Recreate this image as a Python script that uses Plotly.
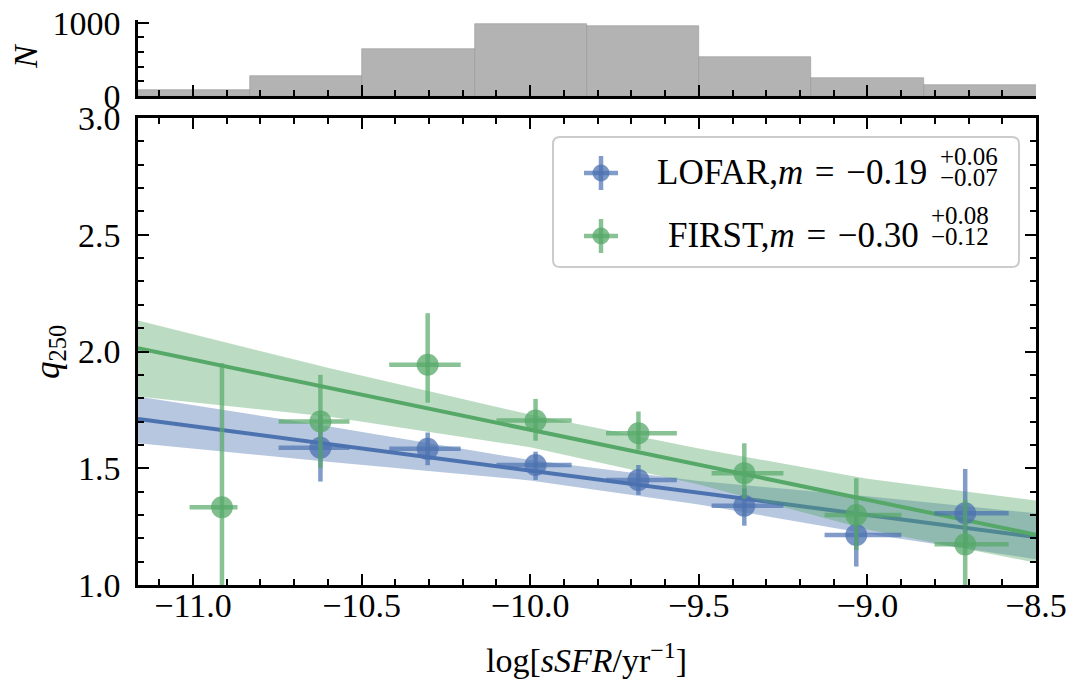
import plotly.graph_objects as go

# ---------------- data ----------------
hist_edges = [-11.163, -10.831, -10.498, -10.165, -9.832, -9.499, -9.166, -8.833, -8.500]
hist_counts = [82, 273, 641, 982, 955, 532, 245, 150]

x_lofar = [-10.622, -10.304, -9.984, -9.679, -9.365, -9.033, -8.710]
q_lofar = [1.588, 1.583, 1.514, 1.450, 1.339, 1.214, 1.307]
q_lofar_up = [0.14, 0.07, 0.057, 0.064, 0.075, 0.13, 0.19]
q_lofar_lo = [0.145, 0.07, 0.064, 0.064, 0.085, 0.135, 0.15]
xerr_lofar_lo = [0.124, 0.114, 0.116, 0.096, 0.097, 0.094, 0.091]
xerr_lofar_hi = [0.086, 0.098, 0.107, 0.114, 0.116, 0.134, 0.129]

x_first = [-10.914, -10.622, -10.304, -9.984, -9.679, -9.365, -9.033, -8.710]
q_first = [1.333, 1.700, 1.943, 1.704, 1.650, 1.479, 1.300, 1.174]
q_first_up = [0.617, 0.20, 0.221, 0.093, 0.093, 0.128, 0.157, 0.19]
q_first_lo = [0.60, 0.20, 0.162, 0.086, 0.071, 0.11, 0.15, 0.20]
xerr_first_lo = [0.096, 0.124, 0.114, 0.116, 0.096, 0.097, 0.094, 0.091]
xerr_first_hi = [0.046, 0.086, 0.098, 0.107, 0.114, 0.116, 0.134, 0.129]

fit_x = [-11.163, -10.6, -10.0, -9.5, -9.0, -8.5]
lofar_fit = [1.711, 1.604, 1.490, 1.395, 1.300, 1.205]
lofar_band_hi = [1.807, 1.680, 1.535, 1.445, 1.380, 1.307]
lofar_band_lo = [1.607, 1.528, 1.448, 1.345, 1.220, 1.110]
first_fit = [2.014, 1.845, 1.665, 1.515, 1.365, 1.215]
first_band_hi = [2.133, 1.930, 1.730, 1.585, 1.455, 1.362]
first_band_lo = [1.807, 1.722, 1.590, 1.430, 1.238, 1.095]

legend_labels = ["LOFAR,<i>m</i>\u2004=\u2004−0.19", "FIRST,<i>m</i>\u2004=\u2004−0.30"]
legend_sup = ["+0.06", "+0.08"]
legend_sub = ["−0.07", "−0.12"]

# ---------------- layout geometry ----------------
W, H = 1076, 681
L, R, T, B = 138, 40, 20, 96
PW, PH = W - L - R, H - T - B
FONT = "Liberation Serif"


def px(x):
    return (x - L) / PW


def py(y):
    return (H - B - y) / PH


BLUE = (76, 114, 176)
GREEN = (85, 168, 104)


def rgba(c, a):
    return "rgba(%d,%d,%d,%s)" % (c[0], c[1], c[2], a)


fig = go.Figure()

# histogram (top panel)
centers = [(hist_edges[i] + hist_edges[i + 1]) / 2 for i in range(len(hist_counts))]
widths = [hist_edges[i + 1] - hist_edges[i] for i in range(len(hist_counts))]
fig.add_trace(go.Bar(x=centers, y=hist_counts, width=widths, xaxis="x2", yaxis="y2",
                     marker=dict(color="#b3b3b3", line=dict(color="#999999", width=0.6)),
                     showlegend=False))


def band(xs, lo, hi, color):
    fig.add_trace(go.Scatter(x=list(xs) + list(xs)[::-1], y=list(hi) + list(lo)[::-1],
                             fill="toself", fillcolor=rgba(color, 0.4), mode="lines",
                             line=dict(width=0), showlegend=False, hoverinfo="skip"))


def line(xs, ys, color):
    fig.add_trace(go.Scatter(x=xs, y=ys, mode="lines", line=dict(color=rgba(color, 1), width=4),
                             showlegend=False))


band(fit_x, lofar_band_lo, lofar_band_hi, BLUE)
line(fit_x, lofar_fit, BLUE)
band(fit_x, first_band_lo, first_band_hi, GREEN)
line(fit_x, first_fit, GREEN)


def points(xs, ys, up, lo, xlo, xhi, color):
    fig.add_trace(go.Scatter(
        x=xs, y=ys, mode="markers",
        marker=dict(size=22, color=rgba(color, 0.75), line=dict(width=0)),
        error_y=dict(type="data", symmetric=False, array=up, arrayminus=lo,
                     thickness=4.5, width=0, color=rgba(color, 0.7)),
        error_x=dict(type="data", symmetric=False, array=xhi, arrayminus=xlo,
                     thickness=4.5, width=0, color=rgba(color, 0.7)),
        showlegend=False, cliponaxis=True))


points(x_lofar, q_lofar, q_lofar_up, q_lofar_lo, xerr_lofar_lo, xerr_lofar_hi, BLUE)
points(x_first, q_first, q_first_up, q_first_lo, xerr_first_lo, xerr_first_hi, GREEN)

# ---------------- legend (drawn manually) ----------------
shapes = []
bx0, bx1, by0, by1 = 553, 1019, 137, 267
r = 7
rx, ry = r / PW, r / PH
X0, X1, Y0, Y1 = px(bx0), px(bx1), py(by1), py(by0)
path = (f"M {X0+rx},{Y1} L {X1-rx},{Y1} Q {X1},{Y1} {X1},{Y1-ry} L {X1},{Y0+ry} "
        f"Q {X1},{Y0} {X1-rx},{Y0} L {X0+rx},{Y0} Q {X0},{Y0} {X0},{Y0+ry} "
        f"L {X0},{Y1-ry} Q {X0},{Y1} {X0+rx},{Y1} Z")
shapes.append(dict(type="path", xref="paper", yref="paper", path=path,
                   line=dict(color="#cccccc", width=2), fillcolor="rgba(255,255,255,0.8)",
                   layer="above"))

annotations = []
rows = [(173, BLUE, 929, 938, 157, 177), (236, GREEN, 921, 929, 215, 236)]
for i, (yc, col, xr, xs, ysup, ysub) in enumerate(rows):
    gx = 601
    arm, rad = 17, 8.5
    shapes.append(dict(type="line", xref="paper", yref="paper", x0=px(gx - arm), x1=px(gx + arm),
                       y0=py(yc), y1=py(yc), line=dict(color=rgba(col, 0.7), width=4.5), layer="above"))
    shapes.append(dict(type="line", xref="paper", yref="paper", x0=px(gx), x1=px(gx),
                       y0=py(yc - arm), y1=py(yc + arm), line=dict(color=rgba(col, 0.7), width=4.5),
                       layer="above"))
    shapes.append(dict(type="circle", xref="paper", yref="paper", x0=px(gx - rad), x1=px(gx + rad),
                       y0=py(yc + rad), y1=py(yc - rad), fillcolor=rgba(col, 0.75),
                       line=dict(width=0), layer="above"))
    annotations.append(dict(xref="paper", yref="paper", x=px(xr), y=py(yc - 1), xanchor="right",
                            yanchor="middle", text=legend_labels[i], showarrow=False,
                            font=dict(family=FONT, size=35, color="black")))
    annotations.append(dict(xref="paper", yref="paper", x=px(xs), y=py(ysup), xanchor="left",
                            yanchor="middle", text=legend_sup[i], showarrow=False,
                            font=dict(family=FONT, size=25, color="black")))
    annotations.append(dict(xref="paper", yref="paper", x=px(xs), y=py(ysub), xanchor="left",
                            yanchor="middle", text=legend_sub[i], showarrow=False,
                            font=dict(family=FONT, size=25, color="black")))

# axis titles
annotations.append(dict(xref="paper", yref="paper", x=px(586), y=py(658), xanchor="center",
                        yanchor="middle", showarrow=False,
                        text="log[<i>sSFR</i>/yr<sup>−1</sup>]",
                        font=dict(family=FONT, size=34, color="black")))
annotations.append(dict(xref="paper", yref="paper", x=px(50), y=py(352), xanchor="center",
                        yanchor="middle", showarrow=False, textangle=-90,
                        text="<i>q</i><sub>250</sub>",
                        font=dict(family=FONT, size=35, color="black")))
annotations.append(dict(xref="paper", yref="paper", x=px(25), y=py(56), xanchor="center",
                        yanchor="middle", showarrow=False, textangle=-90,
                        text="<i>N</i>",
                        font=dict(family=FONT, size=34, color="black")))

tickfont = dict(family=FONT, size=34, color="black")
common = dict(showgrid=False, zeroline=False, showline=True, linecolor="black", linewidth=2.5,
              ticks="inside", ticklen=11, tickwidth=2, tickcolor="black", tickfont=tickfont,
              automargin=False)

fig.update_layout(
    width=W, height=H, margin=dict(l=L, r=R, t=T, b=B, pad=0, autoexpand=False),
    paper_bgcolor="white", plot_bgcolor="white", showlegend=False,
    bargap=0,
    xaxis=dict(domain=[0, 1], anchor="y", range=[hist_edges[0], hist_edges[-1]], mirror="ticks",
               tick0=-11, dtick=0.5, tickformat=".1f", ticklabelstandoff=-12,
               minor=dict(dtick=0.1, tick0=-11, ticks="inside", ticklen=6, tickwidth=1.5,
                          tickcolor="black"),
               **common),
    yaxis=dict(domain=[0, py(118)], anchor="x", range=[1.0, 3.0], mirror="ticks",
               tick0=1, dtick=0.5, tickformat=".1f", ticklabelstandoff=8,
               minor=dict(dtick=0.1, tick0=1, ticks="inside", ticklen=6, tickwidth=1.5,
                          tickcolor="black"),
               **common),
    xaxis2=dict(domain=[0, 1], anchor="y2", matches="x", showticklabels=False,
                tick0=-11, dtick=0.5,
                minor=dict(dtick=0.1, tick0=-11, ticks="inside", ticklen=6, tickwidth=1.5,
                           tickcolor="black"),
                **common),
    yaxis2=dict(domain=[py(96), py(20)], anchor="x2", range=[0, 1037],
                tickvals=[0, 1000], ticklabelstandoff=8,
                minor=dict(dtick=200, tick0=0, ticks="inside", ticklen=6, tickwidth=1.5,
                           tickcolor="black"),
                **common),
    shapes=shapes, annotations=annotations,
)

fig.write_html("out.html")
